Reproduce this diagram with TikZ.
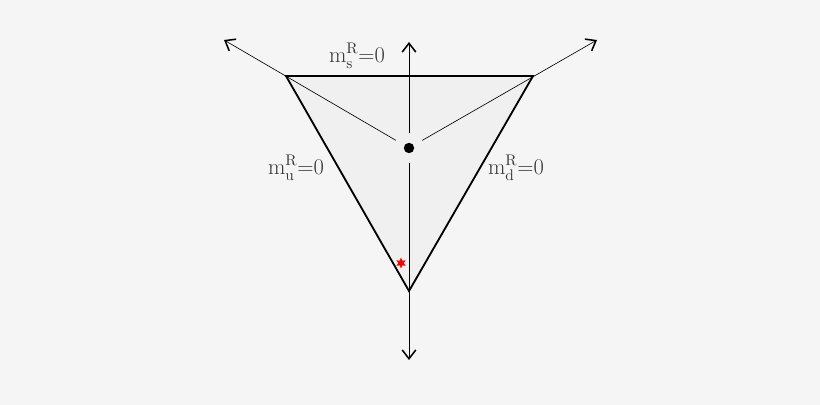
\documentclass[tikz,border=0pt]{standalone}
\usepackage{tikz}
\usetikzlibrary{positioning, shapes.geometric, arrows.meta}
\definecolor{bgcol}{RGB}{245,245,245}
\definecolor{tricol}{RGB}{240,240,240}
\definecolor{txtcol}{RGB}{55,55,55}

\begin{document}
\begin{tikzpicture}[x=0.025cm, y=-0.025cm,
    edge/.style={line width=1.3pt, black},
    axis/.style={-{Straight Barb[length=2.2mm, width=3.4mm, line width=1.1pt]}, line width=0.45pt},
    label/.style={text=txtcol, font=\fontsize{16}{18}\selectfont, inner sep=1pt},
    centre/.style={circle, minimum size=0.75cm, inner sep=0pt}]

% Background
\fill[bgcol] (0,0) rectangle (820,405);
\useasboundingbox (0,0) rectangle (820,405);

% Nodes
\coordinate (tl) at (286,76);
\coordinate (tr) at (533,76);
\coordinate (bt) at (409,291);
\node [centre] (c) at (409,148) {};
\coordinate (endl) at (224,40);
\coordinate (endr) at (597,40);
\coordinate (endt) at (409,42);
\coordinate (endb) at (409,360);

% Triangle
\filldraw [edge, fill=tricol] (tl) -- (tr) -- (bt) -- cycle;

% Arrows
\draw [axis] (c) -- (endl);
\draw [axis] (c) -- (endr);
\draw [axis] (c) -- (endt);
\draw [axis] (c) -- (endb);

\node [circle, fill=black, inner sep=0pt, minimum size=0.26cm] (dot) at (c) {};
\node [star, star points=6, star point ratio=2, fill=red, inner sep=0pt, minimum size=0.27cm] (mark) at (401,263) {};

% Labels
\node [label] (ls) at (357,56) {m$^{\mathrm{R}}_{\mathrm{s}}$=0};
\node [label] (lu) at (296,168) {m$^{\mathrm{R}}_{\mathrm{u}}$=0};
\node [label] (ld) at (516,168) {m$^{\mathrm{R}}_{\mathrm{d}}$=0};

\end{tikzpicture}
\end{document}
